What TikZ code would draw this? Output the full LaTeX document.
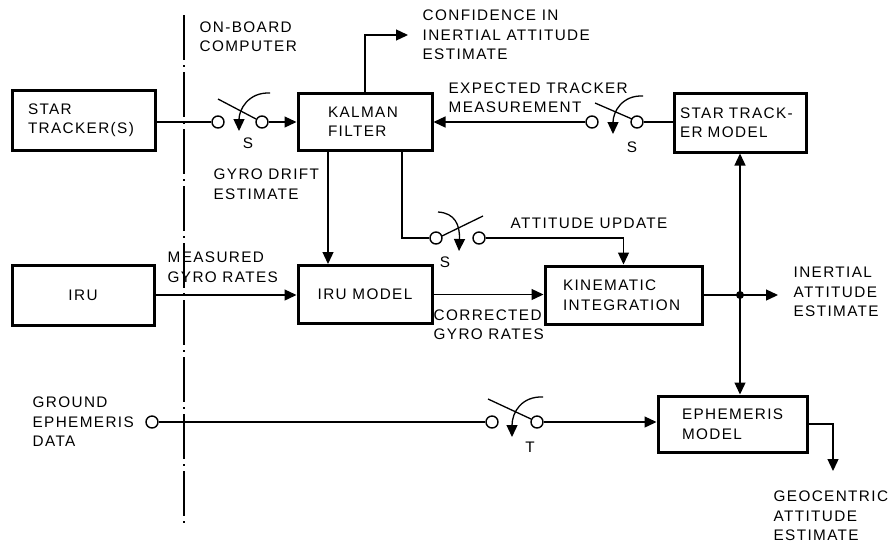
\documentclass[tikz,border=0pt]{standalone}
\usepackage{fontspec}
\setmainfont{Liberation Sans}[LetterSpace=9]
\usetikzlibrary{arrows.meta}
\begin{document}
\begin{tikzpicture}[x=1pt,y=-1pt,
  font=\fontsize{15.3}{19.5}\selectfont,
  line width=1.3pt,
  arr/.style={-{Triangle[length=12pt,width=11pt]}},
  blk/.style={draw,line width=3pt,inner ysep=0pt,align=left},
  sw/.style={draw,circle,line width=1.4pt,minimum size=12pt,inner sep=0pt},
  lbl/.style={inner sep=0pt,anchor=west,align=left},
  dashline/.style={line width=1.2pt,dash pattern=on 45pt off 5pt on 2pt off 5pt},
  jdot/.style={fill,circle,inner sep=0pt,minimum size=8pt}]
\useasboundingbox (0,0) rectangle (890,547);

% blocks
\node[blk,minimum width=143pt,minimum height=60pt,text width=111pt,inner xsep=16pt] (st) at (83.5,120) {STAR\\TRACKER(S)};
\node[blk,minimum width=134pt,minimum height=57pt,text width=74pt,inner xsep=30pt] (kf) at (365,121.5) {KALMAN\\FILTER};
\node[blk,minimum width=132pt,minimum height=59pt,text width=120pt,inner xsep=6pt] (stm) at (740,122.5) {STAR TRACK-\\ER MODEL};
\node[blk,minimum width=142pt,minimum height=60pt,align=center] (iru) at (83,295) {IRU};
\node[blk,minimum width=134pt,minimum height=58pt,align=center] (irum) at (365,294.5) {IRU MODEL};
\node[blk,minimum width=157pt,minimum height=58pt,text width=121pt,inner xsep=18pt] (ki) at (623.5,295) {KINEMATIC\\INTEGRATION};
\node[blk,minimum width=149pt,minimum height=56pt,text width=101pt,inner xsep=24pt] (em) at (732.5,424) {EPHEMERIS\\MODEL};

% labels
\node[lbl] (ob) at (199,36.5) {ON-BOARD\\COMPUTER};
\node[lbl] (conf) at (422,35) {CONFIDENCE IN\\INERTIAL ATTITUDE\\ESTIMATE};
\node[lbl] (exp) at (448,97.5) {EXPECTED TRACKER\\MEASUREMENT};
\node[lbl] (gde) at (213,184) {GYRO DRIFT\\ESTIMATE};
\node[lbl] (mgr) at (167,267) {MEASURED\\GYRO RATES};
\node[lbl] (au) at (510,223) {ATTITUDE UPDATE};
\node[lbl] (cgr) at (433,324.5) {CORRECTED\\GYRO RATES};
\node[lbl] (iae) at (793,292) {INERTIAL\\ATTITUDE\\ESTIMATE};
\node[lbl] (ged) at (32,422) {GROUND\\EPHEMERIS\\DATA};
\node[lbl] (gae) at (773,516) {GEOCENTRIC\\ATTITUDE\\ESTIMATE};
\node[inner sep=0pt] (l1) at (248,143) {S};
\node[inner sep=0pt] (l2) at (632,147) {S};
\node[inner sep=0pt] (l3) at (445,262) {S};
\node[inner sep=0pt] (l4) at (530,447) {T};

% on-board computer boundary
\coordinate (d1) at (184,15);
\coordinate (d2) at (184,525);
\draw[dashline] (d1) -- (d2);

% switches
\node[sw] (s1a) at (218,122) {};
\node[sw] (s1b) at (262,122) {};
\draw (218,99) -- (256,119);
\draw[arr] (270,93) .. controls (248,92) and (239,110) .. (239,131);

\node[sw] (s2a) at (592,122) {};
\node[sw] (s2b) at (637,122) {};
\draw (595,103) -- (632,119);
\draw[arr] (643,96) .. controls (622,95) and (613,112) .. (613,134);

\node[sw] (s3a) at (436,238) {};
\node[sw] (s3b) at (479,238) {};
\draw (442,236) -- (483,216);
\draw[arr] (438,212) .. controls (455,213) and (460,225) .. (459,251);

\node[sw] (sta) at (492,422) {};
\node[sw] (stb) at (537,422) {};
\draw (488,399) -- (531,419);
\draw[arr] (543,397) .. controls (522,396) and (512,412) .. (512,437);

\node[sw] (gc) at (152,422) {};

% coordinates
\coordinate (ca) at (408,35);
\coordinate (j) at (740,295);
\coordinate (ie) at (778,295);
\coordinate (go) at (833,471);
\node[jdot] (jd) at (j) {};

% connectors
\draw (st.east |- s1a) -- (s1a.west);
\draw[arr] (s1b.east) -- (kf.west |- s1b);
\draw[arr] (kf.north) |- (ca);
\draw[arr] (s2a.west) -- (kf.east |- s2a);
\draw (s2b.east) -- (stm.west |- s2b);
\draw[arr] ([xshift=-37pt]kf.south) -- ([xshift=-37pt]irum.north);
\draw ([xshift=37pt]kf.south) |- (s3a.west);
\draw[arr] (s3b.east) -| (ki.north);
\draw[arr] (iru.east) -- (irum.west |- iru.east);
\draw[arr] (irum.east) -- (ki.west |- irum.east);
\draw (ki.east) -- (j);
\draw[arr] (j) -- (ie);
\draw[arr] (j) -- (stm.south);
\draw[arr] (j) -- (j |- em.north);
\draw (gc.east) -- (sta.west);
\draw[arr] (stb.east) -- (em.west |- stb);
\draw[arr] (em.east) -| (go);
\end{tikzpicture}
\end{document}
